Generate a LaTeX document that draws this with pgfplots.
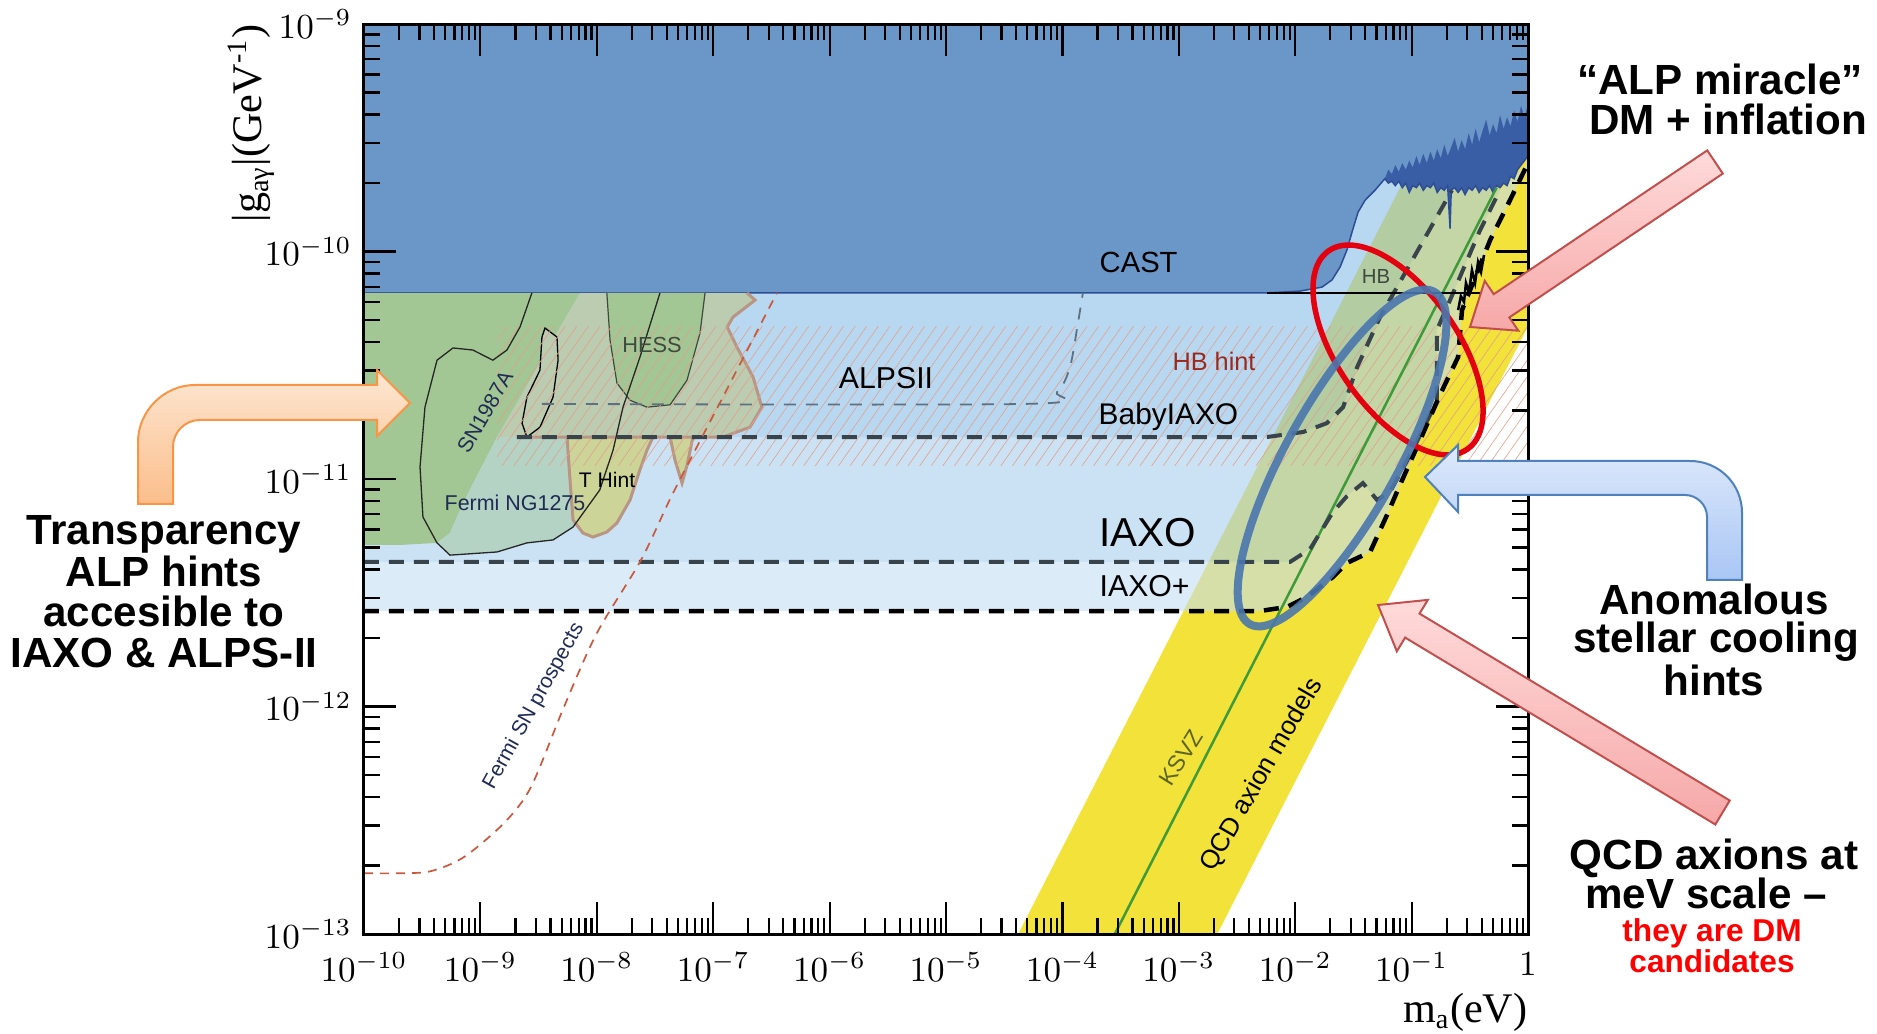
\documentclass[border=0pt]{standalone}
\usepackage{pgfplots}
\pgfplotsset{compat=1.18}
\usepackage{fontspec}
\setmainfont{Liberation Sans}
\newfontfamily\tms{Liberation Serif}
\usetikzlibrary{patterns.meta}
\definecolor{castblue}{HTML}{6A96C8}
\definecolor{noiseblue}{HTML}{3A5EA6}
\definecolor{edgeblue}{HTML}{2D4D95}
\definecolor{bandA}{HTML}{89BEE8}
\definecolor{bandB}{HTML}{A8CFEE}
\definecolor{bandC}{HTML}{C5DEF3}
\definecolor{qcdyellow}{HTML}{F2E23A}
\definecolor{ggreen}{HTML}{A3C794}
\definecolor{tealg}{HTML}{B4D3C4}
\definecolor{greyg}{HTML}{BCCCB0}
\definecolor{thint}{HTML}{CCD597}
\definecolor{brownb}{HTML}{B89683}
\definecolor{hatchc}{HTML}{E2A08C}
\definecolor{fermired}{HTML}{C9583C}
\definecolor{navy}{HTML}{1F2B55}
\definecolor{ksvzgreen}{HTML}{3F9A3A}
\definecolor{alpsgrey}{HTML}{5C7282}
\definecolor{dashgrey}{HTML}{38434C}
\definecolor{hbred}{HTML}{9B2A1E}
\definecolor{ellred}{HTML}{E3000F}
\definecolor{ellblue}{HTML}{4A76AE}
\definecolor{orangeb}{HTML}{F79646}
\definecolor{orangetop}{HTML}{FDE7D3}
\definecolor{orangebot}{HTML}{FBBE8B}
\definecolor{blueb}{HTML}{4F81BD}
\definecolor{bluetop}{HTML}{DEE9FB}
\definecolor{bluebot}{HTML}{A9C6F4}
\definecolor{pinkb}{HTML}{C0504D}
\definecolor{pinktop}{HTML}{FFDADA}
\definecolor{pinkbot}{HTML}{F6A8A8}
\definecolor{ksvztext}{HTML}{5C6428}
\definecolor{hesstext}{HTML}{3D4A3D}
\begin{document}
\begin{tikzpicture}
\useasboundingbox (0,0) rectangle (18.77cm,10.34cm);
\begin{axis}[
  at={(3.64cm,1.00cm)}, anchor=south west,
  scale only axis, width=11.64cm, height=9.10cm,
  xmode=log, ymode=log,
  xmin=1e-10, xmax=1, ymin=1e-13, ymax=1e-9,
  axis on top,
  axis line style={line width=0.3mm},
  tick align=inside,
  major tick length=3.2mm, minor tick length=1.6mm,
  every tick/.style={black, line width=0.22mm},
  xtick={1e-10,1e-9,1e-8,1e-7,1e-6,1e-5,1e-4,1e-3,1e-2,1e-1,1},
  xticklabels={$10^{-10}$,$10^{-9}$,$10^{-8}$,$10^{-7}$,$10^{-6}$,$10^{-5}$,$10^{-4}$,$10^{-3}$,$10^{-2}$,$10^{-1}$,$1$},
  ytick={1e-13,1e-12,1e-11,1e-10,1e-9},
  yticklabels={$10^{-13}$,$10^{-12}$,$10^{-11}$,$10^{-10}$,$10^{-9}$},
  minor xtick={2e-10,3e-10,4e-10,5e-10,6e-10,7e-10,8e-10,9e-10,
    2e-9,3e-9,4e-9,5e-9,6e-9,7e-9,8e-9,9e-9,
    2e-8,3e-8,4e-8,5e-8,6e-8,7e-8,8e-8,9e-8,
    2e-7,3e-7,4e-7,5e-7,6e-7,7e-7,8e-7,9e-7,
    2e-6,3e-6,4e-6,5e-6,6e-6,7e-6,8e-6,9e-6,
    2e-5,3e-5,4e-5,5e-5,6e-5,7e-5,8e-5,9e-5,
    2e-4,3e-4,4e-4,5e-4,6e-4,7e-4,8e-4,9e-4,
    2e-3,3e-3,4e-3,5e-3,6e-3,7e-3,8e-3,9e-3,
    2e-2,3e-2,4e-2,5e-2,6e-2,7e-2,8e-2,9e-2,
    0.2,0.3,0.4,0.5,0.6,0.7,0.8,0.9},
  minor ytick={2e-13,3e-13,4e-13,5e-13,6e-13,7e-13,8e-13,9e-13,
    2e-12,3e-12,4e-12,5e-12,6e-12,7e-12,8e-12,9e-12,
    2e-11,3e-11,4e-11,5e-11,6e-11,7e-11,8e-11,9e-11,
    2e-10,3e-10,4e-10,5e-10,6e-10,7e-10,8e-10,9e-10},
  tick label style={font=\fontsize{10}{12}\selectfont},
  xticklabel style={yshift=-0.6mm},
]
% QCD axion band
\addplot[draw=none, fill=qcdyellow] coordinates {(4.17e-5,1e-13) (2.14e-3,1e-13) (1,4.68e-11) (1,1e-9) (0.417,1e-9)} --cycle;
% IAXO+ band (between IAXO+ and IAXO)
\addplot[draw=none, fill=bandC, fill opacity=0.6] coordinates {
 (1e-10,2.63e-12) (4.99e-3,2.63e-12) (8.51e-3,2.74e-12) (1.26e-2,3.03e-12) (2.11e-2,3.71e-12) (2.79e-2,4.28e-12) (4.40e-2,4.78e-12) (6.15e-2,6.95e-12) (7.94e-2,9.41e-12) (0.118,1.48e-11) (0.175,2.34e-11) (0.251,3.44e-11) (0.271,5.53e-11) (0.472,1.12e-10) (0.700,1.68e-10) (1,2.45e-10)
 (0.574,1.86e-10) (0.387,1.24e-10) (0.288,8.73e-11) (0.214,6.12e-11) (0.165,4.52e-11) (0.165,2.22e-11) (0.144,1.91e-11) (9.68e-2,1.27e-11) (6.52e-2,8.77e-12) (5.05e-2,8.09e-12) (3.82e-2,9.60e-12) (2.79e-2,8.42e-12) (2.11e-2,7.16e-12) (1.34e-2,4.92e-12) (9.02e-3,4.32e-12) (1e-10,4.32e-12)} --cycle;
% IAXO band (between IAXO and BabyIAXO)
\addplot[draw=none, fill=bandB, fill opacity=0.6] coordinates {
 (1e-10,4.32e-12) (9.02e-3,4.32e-12) (1.34e-2,4.92e-12) (2.11e-2,7.16e-12) (2.79e-2,8.42e-12) (3.82e-2,9.60e-12) (5.05e-2,8.09e-12) (6.52e-2,8.77e-12) (9.68e-2,1.27e-11) (0.144,1.91e-11) (0.165,2.22e-11) (0.165,4.52e-11) (0.214,6.12e-11) (0.288,8.73e-11) (0.387,1.24e-10) (0.574,1.86e-10)
 (0.574,1e-9) (0.222,1e-9)
 (0.222,1.86e-10) (0.111,9.95e-11) (5.36e-2,5.15e-11) (3.40e-2,3.10e-11) (2.58e-2,2.07e-11) (1.87e-2,1.76e-11) (1.17e-2,1.61e-11) (5.73e-3,1.53e-11) (2.06e-9,1.53e-11) (1e-10,1.53e-11)} --cycle;
% BabyIAXO band
\addplot[draw=none, fill=bandA, fill opacity=0.6] coordinates {
 (1e-10,1e-9) (1e-10,1.53e-11) (2.06e-9,1.53e-11) (5.73e-3,1.53e-11) (1.17e-2,1.61e-11) (1.87e-2,1.76e-11) (2.58e-2,2.07e-11) (3.40e-2,3.10e-11) (5.36e-2,5.15e-11) (0.111,9.95e-11) (0.222,1.86e-10) (0.222,1e-9)} --cycle;
% CAST + helioscope excluded region
\addplot[draw=none, fill=castblue] coordinates {
 (1e-10,1e-9) (1e-10,6.58e-11) (5.73e-3,6.58e-11) (1.10e-2,6.70e-11) (1.70e-2,6.98e-11) (2.07e-2,7.50e-11) (2.43e-2,8.55e-11) (2.79e-2,1.02e-10) (3.08e-2,1.22e-10) (3.47e-2,1.49e-10) (3.98e-2,1.68e-10) (4.85e-2,1.86e-10)
 (0.0589,2.09e-10) (0.0631,2.00e-10) (0.0676,2.04e-10) (0.0724,1.95e-10) (0.0776,2.04e-10) (0.0832,1.91e-10) (0.0891,2.00e-10) (0.0955,1.82e-10) (0.102,1.95e-10) (0.110,1.91e-10) (0.117,2.00e-10) (0.126,1.86e-10) (0.135,1.95e-10) (0.145,1.91e-10) (0.155,2.00e-10) (0.166,1.82e-10) (0.178,1.91e-10) (0.191,1.86e-10) (0.204,1.95e-10) (0.214,1.26e-10) (0.219,1.86e-10) (0.234,1.91e-10) (0.251,1.82e-10) (0.269,1.91e-10) (0.288,1.78e-10) (0.309,1.91e-10) (0.331,1.86e-10) (0.355,1.95e-10) (0.380,1.82e-10) (0.407,1.91e-10) (0.437,1.86e-10) (0.468,1.95e-10) (0.501,1.82e-10) (0.537,1.95e-10) (0.575,1.91e-10) (0.617,2.00e-10) (0.661,1.95e-10) (0.708,2.14e-10) (0.759,2.09e-10) (0.813,2.29e-10) (0.871,2.40e-10) (0.933,2.51e-10) (1,2.63e-10)
 (1,1e-9)} --cycle;
% noisy edge of the helioscope data
\addplot[draw=none, fill=noiseblue] coordinates {
 (0.0589,2.09e-10) (0.0631,2.00e-10) (0.0676,2.04e-10) (0.0724,1.95e-10) (0.0776,2.04e-10) (0.0832,1.91e-10) (0.0891,2.00e-10) (0.0955,1.82e-10) (0.102,1.95e-10) (0.110,1.91e-10) (0.117,2.00e-10) (0.126,1.86e-10) (0.135,1.95e-10) (0.145,1.91e-10) (0.155,2.00e-10) (0.166,1.82e-10) (0.178,1.91e-10) (0.191,1.86e-10) (0.204,1.95e-10) (0.214,1.26e-10) (0.219,1.86e-10) (0.234,1.91e-10) (0.251,1.82e-10) (0.269,1.91e-10) (0.288,1.78e-10) (0.309,1.91e-10) (0.331,1.86e-10) (0.355,1.95e-10) (0.380,1.82e-10) (0.407,1.91e-10) (0.437,1.86e-10) (0.468,1.95e-10) (0.501,1.82e-10) (0.537,1.95e-10) (0.575,1.91e-10) (0.617,2.00e-10) (0.661,1.95e-10) (0.708,2.14e-10) (0.759,2.09e-10) (0.813,2.29e-10) (0.871,2.40e-10) (0.933,2.51e-10) (1,2.63e-10)
 (1,4.47e-10) (0.933,3.89e-10) (0.871,4.37e-10) (0.813,3.72e-10) (0.759,4.17e-10) (0.708,3.55e-10) (0.661,3.89e-10) (0.617,3.47e-10) (0.575,3.98e-10) (0.537,3.31e-10) (0.501,3.63e-10) (0.468,3.24e-10) (0.437,3.80e-10) (0.407,3.39e-10) (0.380,3.02e-10) (0.355,3.47e-10) (0.331,2.95e-10) (0.309,3.31e-10) (0.288,2.82e-10) (0.269,3.09e-10) (0.251,2.75e-10) (0.234,3.16e-10) (0.219,2.88e-10) (0.204,2.63e-10) (0.191,2.95e-10) (0.178,2.57e-10) (0.166,2.82e-10) (0.155,2.51e-10) (0.145,2.75e-10) (0.135,2.45e-10) (0.126,2.69e-10) (0.117,2.40e-10) (0.110,2.63e-10) (0.102,2.34e-10) (0.0955,2.51e-10) (0.0891,2.29e-10) (0.0832,2.45e-10) (0.0776,2.24e-10) (0.0724,2.40e-10) (0.0676,2.19e-10) (0.0631,2.29e-10)} --cycle;
\addplot[edgeblue, line width=0.15mm] coordinates {
 (1e-10,6.58e-11) (5.73e-3,6.58e-11) (1.10e-2,6.70e-11) (1.70e-2,6.98e-11) (2.07e-2,7.50e-11) (2.43e-2,8.55e-11) (2.79e-2,1.02e-10) (3.08e-2,1.22e-10) (3.47e-2,1.49e-10) (3.98e-2,1.68e-10) (4.85e-2,1.86e-10)
 (0.0589,2.09e-10) (0.0631,2.00e-10) (0.0676,2.04e-10) (0.0724,1.95e-10) (0.0776,2.04e-10) (0.0832,1.91e-10) (0.0891,2.00e-10) (0.0955,1.82e-10) (0.102,1.95e-10) (0.110,1.91e-10) (0.117,2.00e-10) (0.126,1.86e-10) (0.135,1.95e-10) (0.145,1.91e-10) (0.155,2.00e-10) (0.166,1.82e-10) (0.178,1.91e-10) (0.191,1.86e-10) (0.204,1.95e-10) (0.214,1.26e-10) (0.219,1.86e-10) (0.234,1.91e-10) (0.251,1.82e-10) (0.269,1.91e-10) (0.288,1.78e-10) (0.309,1.91e-10) (0.331,1.86e-10) (0.355,1.95e-10) (0.380,1.82e-10) (0.407,1.91e-10) (0.437,1.86e-10) (0.468,1.95e-10) (0.501,1.82e-10) (0.537,1.95e-10) (0.575,1.91e-10) (0.617,2.00e-10) (0.661,1.95e-10) (0.708,2.14e-10) (0.759,2.09e-10) (0.813,2.29e-10) (0.871,2.40e-10) (0.933,2.51e-10) (1,2.63e-10)};
% ALP hint regions (astrophysics)
\addplot[draw=none, fill=ggreen] coordinates {(1e-10,6.58e-11) (7.18e-9,6.58e-11) (4.55e-9,4.39e-11) (2.67e-9,2.72e-11) (1.39e-9,1.53e-11) (7.10e-10,7.85e-12) (5.48e-10,5.79e-12) (4.24e-10,5.24e-12) (2.04e-10,5.13e-12) (1e-10,5.13e-12)} --cycle;
\addplot[draw=none, fill=greyg] coordinates {(7.18e-9,6.58e-11) (1.95e-7,6.58e-11) (2.29e-7,6.12e-11) (1.48e-7,5.15e-11) (1.32e-7,4.66e-11) (1.60e-7,3.80e-11) (2.20e-7,2.81e-11) (2.62e-7,2.07e-11) (2.07e-7,1.69e-11) (1.21e-7,1.53e-11) (1.39e-9,1.53e-11) (2.67e-9,2.72e-11) (4.55e-9,4.39e-11)} --cycle;
\addplot[draw=none, fill=tealg] coordinates {(1.39e-9,1.53e-11) (7.10e-10,7.85e-12) (5.48e-10,5.79e-12) (4.24e-10,5.24e-12) (5.48e-10,4.63e-12) (1.39e-9,4.78e-12) (2.51e-9,5.24e-12) (4.21e-9,5.40e-12) (6.25e-9,6.15e-12) (1.06e-8,8.95e-12) (1.38e-8,1.34e-11) (1.52e-8,1.53e-11)} --cycle;
% HESS
\addplot[fill=ggreen, draw=hesstext, line width=0.12mm] coordinates {(1.22e-8,6.58e-11) (1.30e-8,4.08e-11) (1.49e-8,2.64e-11) (1.93e-8,2.22e-11) (2.70e-8,2.07e-11) (4.26e-8,2.12e-11) (5.96e-8,2.72e-11) (7.71e-8,4.39e-11) (8.51e-8,6.58e-11)};
% small closed contour
\addplot[fill=greyg, draw=black, line width=0.13mm] coordinates {(3.59e-9,4.61e-11) (4.55e-9,4.21e-11) (4.65e-9,3.33e-11) (4.21e-9,2.29e-11) (3.25e-9,1.69e-11) (2.51e-9,1.53e-11) (2.28e-9,1.76e-11) (2.51e-9,2.29e-11) (3.25e-9,3.01e-11) (3.38e-9,4.21e-11)} --cycle;
% T hints
\addplot[fill=thint, draw=brownb, line width=0.3mm] coordinates {(5.55e-9,1.53e-11) (5.89e-9,9.90e-12) (6.25e-9,6.61e-12) (7.60e-9,5.79e-12) (9.27e-9,5.56e-12) (1.22e-8,5.85e-12) (1.49e-8,6.41e-12) (1.93e-8,8.09e-12) (2.35e-8,1.10e-11) (2.70e-8,1.34e-11) (3.04e-8,1.53e-11)};
\addplot[fill=thint, draw=brownb, line width=0.3mm] coordinates {(4.26e-8,1.53e-11) (4.70e-8,1.21e-11) (5.40e-8,9.60e-12) (5.96e-8,1.15e-11) (6.70e-8,1.53e-11)};
\addplot[brownb, line width=0.3mm] coordinates {(1.95e-7,6.58e-11) (2.29e-7,6.12e-11) (1.48e-7,5.15e-11) (1.32e-7,4.66e-11) (1.60e-7,3.80e-11) (2.20e-7,2.81e-11) (2.62e-7,2.07e-11) (2.07e-7,1.69e-11) (1.21e-7,1.53e-11) (2.06e-9,1.53e-11)};
% HB hint hatching
\addplot[draw=none, pattern={Lines[angle=55,distance=0.95mm,line width=0.06mm]}, pattern color=hatchc] coordinates {(1.39e-9,1.15e-11) (1,1.15e-11) (1,4.66e-11) (1.39e-9,4.66e-11)} --cycle;
% big contour
\addplot[black!85, line width=0.13mm] coordinates {(2.77e-9,6.58e-11) (2.19e-9,4.66e-11) (1.69e-9,3.69e-11) (1.28e-9,3.33e-11) (8.63e-10,3.69e-11) (5.82e-10,3.77e-11) (4.24e-10,3.33e-11) (3.34e-10,2.07e-11) (3.03e-10,1.13e-11) (3.21e-10,6.81e-12) (4.24e-10,5.24e-12) (5.48e-10,4.63e-12) (1.39e-9,4.78e-12) (2.51e-9,5.24e-12) (4.21e-9,5.40e-12) (6.25e-9,6.15e-12) (1.06e-8,8.95e-12) (1.38e-8,1.34e-11) (1.68e-8,2.07e-11) (2.35e-8,3.44e-11) (3.49e-8,6.58e-11)};
% KSVZ
\addplot[ksvzgreen, line width=0.25mm] coordinates {(2.82e-4,1e-13) (0.537,1.91e-10)};
% sensitivity lines
\addplot[alpsgrey, line width=0.18mm, dash pattern=on 1.2mm off 1mm, smooth] coordinates {(3.38e-9,2.14e-11) (4.97e-5,2.14e-11) (9.00e-5,2.41e-11) (1.16e-4,3.10e-11) (1.36e-4,4.85e-11) (1.50e-4,6.58e-11)};
\addplot[dashgrey, line width=0.4mm, dash pattern=on 1.5mm off 1mm] coordinates {(2.06e-9,1.53e-11) (5.73e-3,1.53e-11) (1.17e-2,1.61e-11) (1.87e-2,1.76e-11) (2.58e-2,2.07e-11) (3.40e-2,3.10e-11) (5.36e-2,5.15e-11) (0.111,9.95e-11) (0.222,1.86e-10)};
\addplot[dashgrey, line width=0.4mm, dash pattern=on 1.5mm off 1mm] coordinates {(1e-10,4.32e-12) (9.02e-3,4.32e-12) (1.34e-2,4.92e-12) (2.11e-2,7.16e-12) (2.79e-2,8.42e-12) (3.82e-2,9.60e-12) (5.05e-2,8.09e-12) (6.52e-2,8.77e-12) (9.68e-2,1.27e-11) (0.144,1.91e-11) (0.165,2.22e-11) (0.165,4.52e-11) (0.214,6.12e-11) (0.288,8.73e-11) (0.387,1.24e-10) (0.574,1.86e-10)};
\addplot[black, line width=0.45mm, dash pattern=on 1.5mm off 1mm] coordinates {(1e-10,2.63e-12) (4.99e-3,2.63e-12) (8.51e-3,2.74e-12) (1.26e-2,3.03e-12) (2.11e-2,3.71e-12) (2.79e-2,4.28e-12) (4.40e-2,4.78e-12) (6.15e-2,6.95e-12) (7.94e-2,9.41e-12) (0.118,1.48e-11) (0.175,2.34e-11) (0.251,3.44e-11) (0.271,5.53e-11) (0.472,1.12e-10) (0.700,1.68e-10) (1,2.45e-10)};
% Fermi SN prospects
\addplot[fermired, line width=0.17mm, dash pattern=on 0.9mm off 0.7mm, smooth] coordinates {(1e-10,1.85e-13) (2.04e-10,1.85e-13) (3.76e-10,1.89e-13) (7.23e-10,2.18e-13) (1.60e-9,3.08e-13) (2.72e-9,4.43e-13) (5.22e-9,9.95e-13) (1.00e-8,2.10e-12) (2.40e-8,4.41e-12) (4.52e-8,8.68e-12) (1.21e-7,2.29e-11) (3.53e-7,6.58e-11)};
% CAST line and high-mass data
\addplot[black, line width=0.15mm] coordinates {(5.73e-3,6.58e-11) (0.387,6.58e-11)};
\addplot[black, line width=0.25mm] coordinates {(0.251,5.53e-11) (0.265,6.37e-11) (0.282,6.0e-11) (0.293,7.28e-11) (0.311,6.64e-11) (0.330,8.30e-11) (0.351,7.28e-11) (0.372,8.99e-11) (0.395,8.13e-11) (0.419,9.66e-11)};
\end{axis}
\begin{scope}[x=0.1mm,y=-0.1mm,yshift=10.34cm,every node/.append style={inner sep=0pt}]
% axis titles
\node[rotate=90, anchor=east, font={\tms\fontsize{12}{14}\selectfont}] at (251,24) {|g\textsubscript{aγ}|(GeV\textsuperscript{-1})};
\node[anchor=base east, font={\tms\fontsize{12}{14}\selectfont}] at (1528,1022) {m\textsubscript{a}(eV)};
% labels inside the plot
\node[anchor=base west, font=\fontsize{8.3}{10}\selectfont] at (1099,273) {CAST};
\node[font=\fontsize{8.6}{10}\selectfont] at (886,378) {ALPSII};
\node[text=hbred, font=\fontsize{7.2}{9}\selectfont] at (1214,361) {HB hint};
\node[anchor=base west, font=\fontsize{8.5}{10}\selectfont] at (1098,425) {BabyIAXO};
\node[anchor=base west, font=\fontsize{11.5}{13}\selectfont] at (1099,547) {IAXO};
\node[anchor=base west, font=\fontsize{8.6}{10}\selectfont] at (1099,597) {IAXO+};
\node[text=hesstext, font=\fontsize{6.2}{8}\selectfont] at (652,345) {HESS};
\node[text=navy, rotate=60, font=\fontsize{6}{8}\selectfont] at (485,412) {SN1987A};
\node[text=navy, font=\fontsize{6.1}{8}\selectfont] at (515,503) {Fermi NG1275};
\node[font=\fontsize{6}{8}\selectfont] at (607,480) {T Hint};
\node[text=hesstext, font=\fontsize{5.8}{8}\selectfont] at (1376,277) {HB};
\node[text=ksvztext, rotate=58, font=\fontsize{6.6}{8}\selectfont] at (1181,758) {KSVZ};
\node[rotate=60, font=\fontsize{7.4}{9}\selectfont] at (1262,775) {QCD axion models};
\node[text=navy, rotate=61, font=\fontsize{6}{8}\selectfont] at (534,706) {Fermi SN prospects};
% highlight ellipses
\draw[ellred, line width=0.55mm, rotate around={-55:(1398,350)}] (1398,350) ellipse [x radius=12.1mm, y radius=6mm];
\draw[ellblue, line width=0.8mm, opacity=0.9, rotate around={61:(1342,458)}] (1342,458) ellipse [x radius=19mm, y radius=5.6mm];
% orange arrow
\draw[orangeb, line width=0.2mm, top color=orangetop, bottom color=orangebot]
 (138,504) -- (138,442) .. controls (138,411) and (164,385) .. (195,385) -- (377,385) -- (377,370) -- (410,403) -- (377,436) -- (377,420) -- (200,420) .. controls (185,420) and (173,432) .. (173,447) -- (173,504) -- cycle;
% blue arrow
\draw[blueb, line width=0.2mm, top color=bluetop, bottom color=bluebot]
 (1425,477) -- (1458,445) -- (1458,461) -- (1690,461) .. controls (1719,461) and (1742,484) .. (1742,513) -- (1742,580) -- (1707,580) -- (1707,517) .. controls (1707,505) and (1697,495) .. (1685,495) -- (1458,495) -- (1458,512) -- cycle;
% pink arrows
\draw[pinkb, line width=0.2mm, top color=pinktop, bottom color=pinkbot]
 (1707.2,150.4) -- (1493.7,294.2) -- (1484.7,280.9) -- (1470,327) -- (1518.3,330.7) -- (1509.3,317.4) -- (1722.8,173.6) -- cycle;
\draw[pinkb, line width=0.2mm, top color=pinktop, bottom color=pinkbot]
 (1729.7,800.5) -- (1419.5,613.6) -- (1427.8,599.9) -- (1378,605) -- (1396.8,651.3) -- (1405.1,637.6) -- (1715.3,824.5) -- cycle;
% annotation texts
\begin{scope}[every node/.style={anchor=base, inner sep=0pt, font=\bfseries\fontsize{12}{12}\selectfont}]
\node at (164,545) {Transparency};
\node at (164,587) {ALP hints};
\node at (164,627) {accesible to};
\node at (164,668) {IAXO \& ALPS-II};
\node at (1720,95) {“ALP miracle”};
\node at (1728,135) {DM + inflation};
\node at (1714,615) {Anomalous};
\node at (1716,653) {stellar cooling};
\node at (1714,695) {hints};
\node at (1714,869) {QCD axions at};
\node at (1706,908) {meV scale –};
\end{scope}
\node[anchor=base, text=red, font=\bfseries\fontsize{9}{10}\selectfont] at (1712,941) {they are DM};
\node[anchor=base, text=red, font=\bfseries\fontsize{9}{10}\selectfont] at (1712,972) {candidates};
\end{scope}
\end{tikzpicture}
\end{document}
